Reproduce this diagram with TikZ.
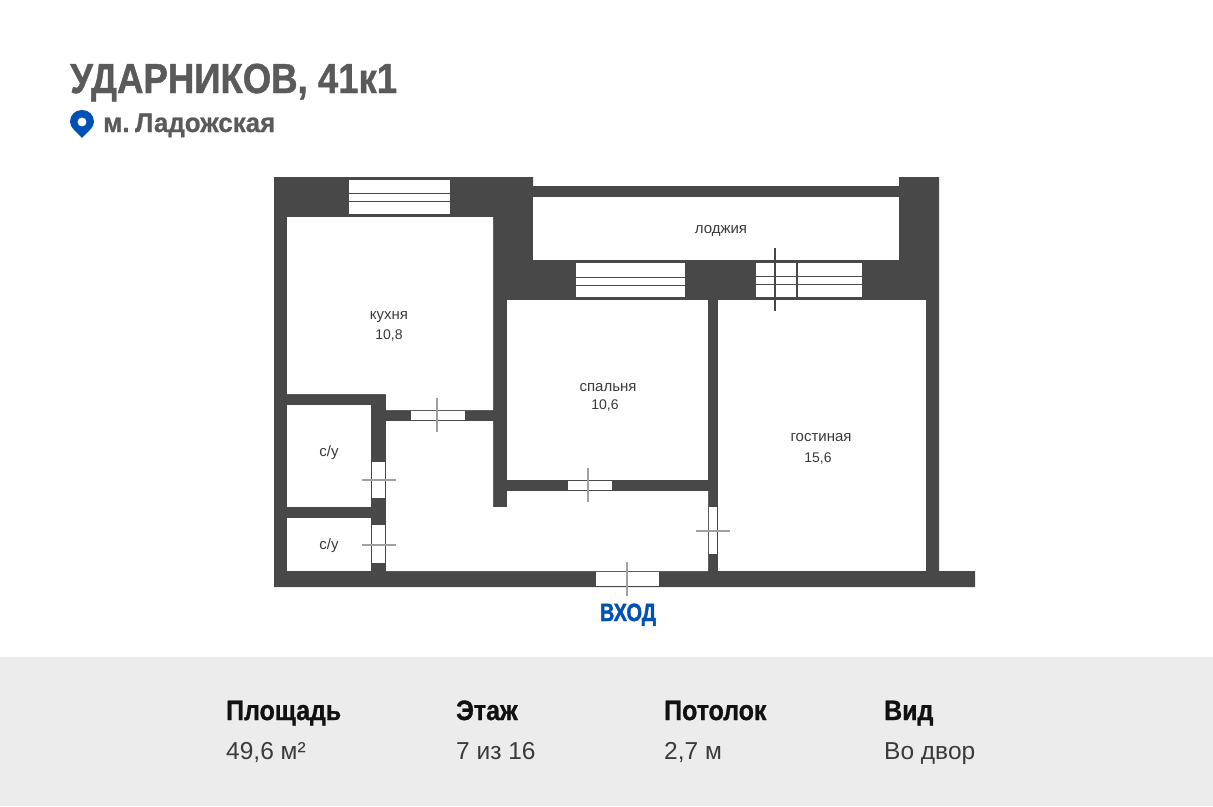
\documentclass[tikz,border=0pt]{standalone}
\usepackage{fontspec}
\setmainfont{Liberation Sans}
\newfontfamily\condT{Liberation Sans Bold}[FakeStretch=0.87,FakeBold=1]
\newfontfamily\condA{Liberation Sans Bold}[FakeStretch=0.89,FakeBold=1]
\newfontfamily\condC{Liberation Sans Bold}[FakeStretch=0.96,FakeBold=0.8]
\newfontfamily\condB{Liberation Sans Bold}[FakeStretch=0.80,FakeBold=1.5]
\definecolor{wallc}{HTML}{484848}
\definecolor{titlec}{HTML}{5A5A5A}
\definecolor{bluec}{HTML}{0050B8}
\definecolor{bandc}{HTML}{ECECEC}
\definecolor{tickc}{HTML}{A0A0A0}
\definecolor{textc}{HTML}{3A3A3A}
\definecolor{inkc}{HTML}{111111}
\tikzset{
  wall/.style={fill=wallc,draw=none},
  room/.style={fill=white,draw=none},
  glass/.style={draw=wallc,line width=1.4pt},
  tick/.style={draw=tickc,line width=1.6pt},
  darktick/.style={draw=wallc,line width=2pt},
  roomlabel/.style={inner sep=0pt,text=textc,font=\fontsize{15}{15}\selectfont,anchor=base},
  arealabel/.style={inner sep=0pt,text=textc,font=\fontsize{14}{14}\selectfont,anchor=base},
  headlabel/.style={inner sep=0pt,anchor=base west,text=inkc,font=\condA\fontsize{28}{28}\selectfont},
  valuelabel/.style={inner sep=0pt,anchor=base west,text=textc,font=\fontsize{24.5}{24.5}\selectfont},
}
\begin{document}
\begin{tikzpicture}[x=1pt,y=-1pt]
\useasboundingbox (0,0) rectangle (1213,806);
\fill[white] (0,0) rectangle (1213,806);
\fill[bandc] (0,657) rectangle (1213,806);
% walls
\path[wall] (274,177) -- (533,177) -- (533,186) -- (899,186) -- (899,177) -- (939,177) -- (939,571) -- (975,571) -- (975,587) -- (274,587) -- cycle;
% rooms
\path[room] (533,197) rectangle (899,260);
\path[room] (287,217) -- (493,217) -- (493,410) -- (386,410) -- (386,394) -- (287,394) -- cycle;
\path[room] (507,300) rectangle (708,480);
\path[room] (718,300) rectangle (926,571);
\path[room] (287,405) rectangle (371,507);
\path[room] (287,518) rectangle (371,571);
\path[room] (386,421) -- (493,421) -- (493,507) -- (507,507) -- (507,491) -- (708,491) -- (708,571) -- (386,571) -- cycle;
% windows
\path[room] (349,180) rectangle (450,214);
\draw[glass] (349,193.3) -- (450,193.3);
\draw[glass] (349,201.7) -- (450,201.7);
\path[room] (576,263) rectangle (685,297);
\draw[glass] (576,277.3) -- (685,277.3);
\draw[glass] (576,285.5) -- (685,285.5);
\path[room] (756,263) rectangle (862,297);
\draw[glass] (756,276.5) -- (862,276.5);
\draw[glass] (756,284.5) -- (862,284.5);
\draw[darktick] (797,263) -- (797,297);
\draw[darktick] (775,248) -- (775,311);
% doors
\path[room] (411,411) rectangle (465,420);
\draw[tick] (437,398) -- (437,432);
\path[room] (372,462) rectangle (385,498);
\draw[tick] (362,480) -- (396,480);
\path[room] (372,525) rectangle (385,563);
\draw[tick] (362,545) -- (396,545);
\path[room] (568,481) rectangle (612,490);
\draw[tick] (588,468) -- (588,502);
\path[room] (709,507) rectangle (717,554);
\draw[tick] (696,531) -- (730,531);
\path[room] (596,572) rectangle (659,586);
\draw[tick] (627,562) -- (627,596);
% room labels
\node[roomlabel] (kitchen) at (389,319) {кухня};
\node[arealabel] (kitchenarea) at (389,339) {10,8};
\node[roomlabel] (bedroom) at (608,391) {спальня};
\node[arealabel] (bedroomarea) at (605,409) {10,6};
\node[roomlabel] (living) at (821,441) {гостиная};
\node[arealabel] (livingarea) at (818,462) {15,6};
\node[roomlabel] (loggia) at (721,233) {лоджия};
\node[roomlabel] (wc1) at (329,456) {с/у};
\node[roomlabel] (wc2) at (329,549) {с/у};
\node[inner sep=0pt,anchor=base,text=bluec,font=\condB\fontsize{25}{25}\selectfont] (entry) at (628,621) {ВХОД};
% header
\node[inner sep=0pt,anchor=base west,text=titlec,font=\condT\fontsize{42}{42}\selectfont] (title) at (70,93) {УДАРНИКОВ, 41к1};
\node[inner sep=0pt,anchor=base west,text=titlec,font=\condC\fontsize{27}{27}\selectfont] (metro) at (103,132) {м.\hspace{5.5pt}Ладожская};
\fill[bluec,even odd rule] (82,138) .. controls (78,133) and (70,128) .. (70,122) .. controls (70,115) and (75,110) .. (82,110) .. controls (89,110) and (94,115) .. (94,122) .. controls (94,128) and (86,133) .. (82,138) -- cycle (82,122) circle[radius=4.6pt];
% footer
\node[headlabel] (h1) at (226,720) {Площадь};
\node[headlabel] (h2) at (456,720) {Этаж};
\node[headlabel] (h3) at (664,720) {Потолок};
\node[headlabel] (h4) at (884,720) {Вид};
\node[valuelabel] (v1) at (226,759.5) {49,6 м²};
\node[valuelabel] (v2) at (456,759.5) {7 из 16};
\node[valuelabel] (v3) at (664,759.5) {2,7 м};
\node[valuelabel] (v4) at (884,759.5) {Во двор};
\end{tikzpicture}
\end{document}
